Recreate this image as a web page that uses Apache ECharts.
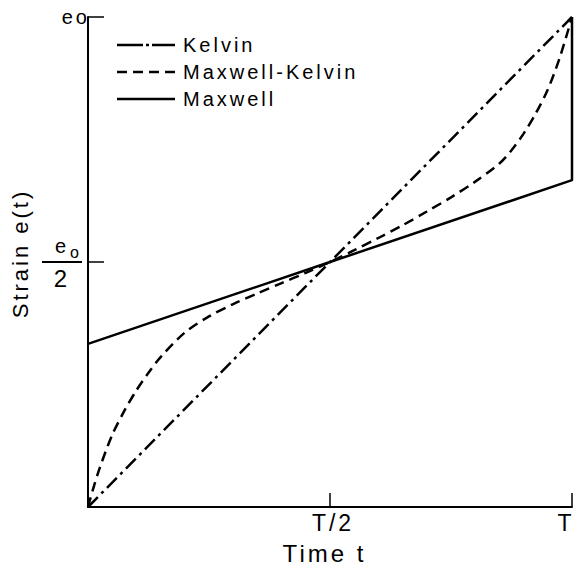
<!DOCTYPE html>
<html><head><meta charset="utf-8">
<script src="https://cdn.jsdelivr.net/npm/echarts@6/dist/echarts.min.js"></script>
<style>
html,body{margin:0;padding:0;background:#fff;}
#c{width:575px;height:570px;}
#c svg text{letter-spacing:3px;}
</style></head><body><div id="c"></div>
<script>
const seriesNames = ['Kelvin', 'Maxwell-Kelvin', 'Maxwell'];
const kelvinT = [0, 0.5, 1];
const kelvinE = [0, 0.5, 1];
const mkT = [0, 0.01, 0.025, 0.05, 0.075, 0.1, 0.125, 0.15, 0.2, 0.25, 0.3, 0.35, 0.4, 0.45, 0.5,
             0.55, 0.6, 0.65, 0.7, 0.75, 0.8, 0.85, 0.875, 0.9, 0.925, 0.95, 0.975, 1];
const mkE = [0, 0.035, 0.082, 0.147, 0.196, 0.238, 0.274, 0.306, 0.356, 0.389, 0.414, 0.436, 0.457, 0.478, 0.5,
             0.524, 0.549, 0.575, 0.603, 0.632, 0.664, 0.701, 0.728, 0.762, 0.803, 0.852, 0.918, 1];
const maxwellT = [0, 0.5, 1, 1];
const maxwellE = [0.333, 0.5, 0.667, 1];
const xTickValues = [0, 0.5, 1];
const xTickLabels = ['', '{m|T/2}', '{n|T}'];
const yTickValues = [0, 0.5, 1];
const yTickLabels = ['', '{e|e}{o|o}{g| }\n{bar| }{g| }\n{d|2}{g| }', 'eo'];
const xAxisTitle = 'Time t';
const yAxisTitle = 'Strain e(t)';

const FONT = 'Liberation Sans';
const zip = (a, b) => a.map((v, i) => [v, b[i]]);
const lookup = (vals, labels) => v => {
  const i = vals.findIndex(x => Math.abs(x - v) < 1e-9);
  return i >= 0 ? labels[i] : '';
};
// legend key glyphs (dash-dot, dashed, solid)
const legendIcons = [
  'path://M0,0H26V2H0Z M29,0H32V2H29Z M35,0H58V2H35Z',
  'path://M0,0H10V2H0Z M16,0H26V2H16Z M32,0H42V2H32Z M48,0H58V2H48Z',
  'path://M0,0H58V2H0Z'
];

const chart = echarts.init(document.getElementById('c'), null, {renderer: 'svg'});
chart.setOption({
  animation: false,
  backgroundColor: '#fff',
  textStyle: {fontFamily: FONT, color: '#000'},
  grid: {left: 88, right: 3, top: 17, bottom: 63, containLabel: false, outerBoundsMode: 'none'},
  legend: {
    orient: 'vertical', left: 117, top: 35, padding: 0,
    itemWidth: 58, itemHeight: 2.5, itemGap: 7, symbolKeepAspect: false,
    itemStyle: {color: '#000', borderWidth: 0},
    textStyle: {fontFamily: FONT, fontSize: 20, lineHeight: 20, color: '#000', padding: [0, 0, 0, 3]},
    data: seriesNames.map((n, i) => ({name: n, icon: legendIcons[i]}))
  },
  xAxis: {
    type: 'value', min: 0, max: 1, interval: 0.5,
    name: xAxisTitle, nameLocation: 'middle', nameGap: 34,
    nameTextStyle: {fontFamily: FONT, fontSize: 24, color: '#000', padding: [0, 11, 0, 0]},
    axisLine: {lineStyle: {color: '#000', width: 2}},
    axisTick: {inside: true, length: 14, lineStyle: {color: '#000', width: 1.5}},
    splitLine: {show: false},
    axisLabel: {
      margin: 4, fontFamily: FONT, fontSize: 23, color: '#000',
      showMinLabel: true, showMaxLabel: true,
      formatter: lookup(xTickValues, xTickLabels),
      rich: {
        m: {fontFamily: FONT, fontSize: 23, color: '#000', padding: [0, 0, 0, 6]},
        n: {fontFamily: FONT, fontSize: 23, color: '#000', padding: [0, 12, 0, 0]}
      }
    }
  },
  yAxis: {
    type: 'value', min: 0, max: 1, interval: 0.5,
    name: yAxisTitle, nameLocation: 'middle', nameGap: 55, nameRotate: 90,
    nameTextStyle: {fontFamily: FONT, fontSize: 22, color: '#000', padding: [0, 0, 0, 17]},
    axisLine: {lineStyle: {color: '#000', width: 2}},
    axisTick: {inside: true, length: 16, lineStyle: {color: '#000', width: 1.5}},
    splitLine: {show: false},
    axisLabel: {
      margin: -2, fontFamily: FONT, fontSize: 20, color: '#000',
      showMinLabel: true, showMaxLabel: true,
      formatter: lookup(yTickValues, yTickLabels),
      rich: {
        e: {fontFamily: FONT, fontSize: 20, lineHeight: 28, width: 15, align: 'right', color: '#000'},
        o: {fontFamily: FONT, fontSize: 16, lineHeight: 24, width: 13, align: 'right', color: '#000', verticalAlign: 'bottom'},
        g: {width: 8, fontSize: 4, lineHeight: 4},
        bar: {width: 40, height: 2, lineHeight: 4, fontSize: 1, backgroundColor: '#000'},
        d: {fontFamily: FONT, fontSize: 24, lineHeight: 28, width: 40, align: 'center', color: '#000'}
      }
    }
  },
  series: [
    {name: seriesNames[0], type: 'line', data: zip(kelvinT, kelvinE), symbol: 'none',
     lineStyle: {color: '#000', width: 2.5, type: [14, 5, 3, 5]}, itemStyle: {color: '#000'}},
    {name: seriesNames[1], type: 'line', data: zip(mkT, mkE), symbol: 'none', smooth: 0.3,
     lineStyle: {color: '#000', width: 2.5, type: [10, 6]}, itemStyle: {color: '#000'}},
    {name: seriesNames[2], type: 'line', data: zip(maxwellT, maxwellE), symbol: 'none',
     lineStyle: {color: '#000', width: 2.5}, itemStyle: {color: '#000'}}
  ]
});
</script></body></html>
